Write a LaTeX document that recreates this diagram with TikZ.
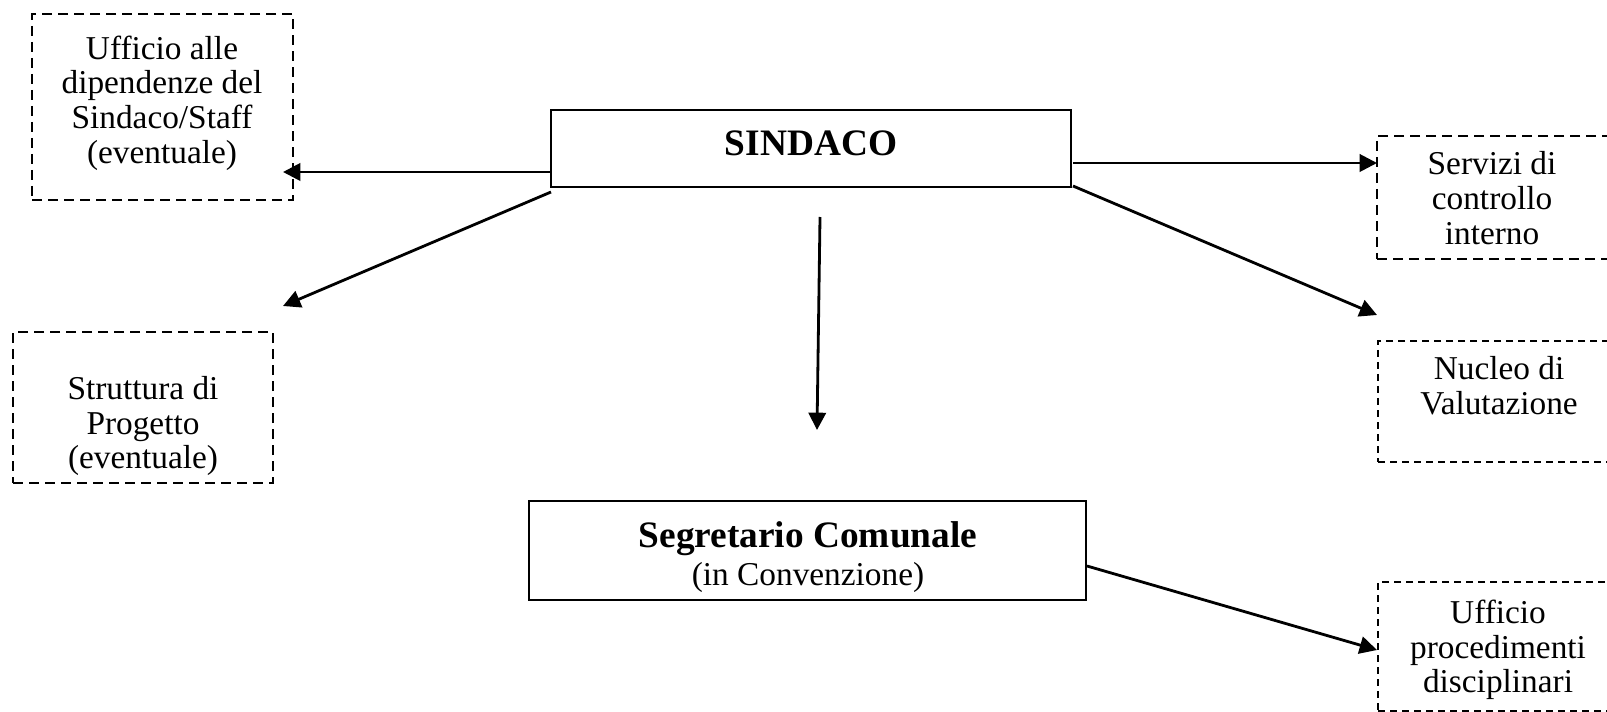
\documentclass[tikz,border=0pt]{standalone}
\usepackage{fontspec}
\setmainfont{Liberation Serif}
\usetikzlibrary{arrows.meta,fit}
\begin{document}
\begin{tikzpicture}[x=0.375pt,y=-0.375pt,
  solidbox/.style={draw, line width=0.75pt, inner sep=0pt},
  longdash/.style={draw, line width=0.75pt, inner sep=0pt, dash pattern=on 3.75pt off 2.25pt},
  shortdash/.style={draw, line width=0.6pt, inner sep=0pt, dash pattern=on 2.6pt off 1.9pt},
  txt/.style={align=center, inner sep=0pt, font=\fontsize{12.5}{13}\selectfont},
  arr/.style={line width=1.05pt, -{Triangle[length=6.5pt,width=6.5pt]}}]
\useasboundingbox (0,0) rectangle (1607,712);
\clip (0,0) rectangle (1607,712);
% boxes
\node[longdash, fit={(32,14) (293,200)}] (uff) {};
\node[txt] (ufft) at (162,103) {Ufficio alle\\dipendenze del\\Sindaco/Staff\\(eventuale)};
\node[solidbox, fit={(551,110) (1071,187)}] (sind) {};
\node[inner sep=0pt, font=\fontsize{14}{16}\selectfont\bfseries] (sindt) at (811,143.5) {SINDACO};
\node[longdash, fit={(1377,136) (1625,259)}] (serv) {};
\node[txt] (servt) at (1492,198) {Servizi di\\controllo\\interno};
\node[shortdash, fit={(1378,341) (1625,462)}] (nuc) {};
\node[txt] (nuct) at (1499,386) {Nucleo di\\Valutazione};
\node[longdash, fit={(13,332) (273,483)}] (strut) {};
\node[txt] (strutt) at (143,426) {Struttura di\\Progetto\\(eventuale)};
\node[solidbox, fit={(529,501) (1086,600)}] (seg) {};
\node[txt, font=\fontsize{12.5}{14.25}\selectfont] (segt) at (808,557) {{\fontsize{14}{16}\selectfont\bfseries Segretario Comunale}\\(in Convenzione)};
\node[shortdash, fit={(1378,582) (1625,711)}] (proc) {};
\node[txt] (proct) at (1498,650) {Ufficio\\procedimenti\\disciplinari};
% connector ends
\coordinate (a1s) at (551,172);
\coordinate (a1e) at (283,172);
\coordinate (a2s) at (1073,163);
\coordinate (a2e) at (1377,163);
\coordinate (a3s) at (1073,186);
\coordinate (a3e) at (1377,315);
\coordinate (a4s) at (551,192);
\coordinate (a4e) at (283,306);
\coordinate (a5s) at (820,217);
\coordinate (a5e) at (817,430);
\coordinate (a6s) at (1087,566);
\coordinate (a6e) at (1377,650);
\draw[arr] (a1s) -- (a1e);
\draw[arr] (a2s) -- (a2e);
\draw[arr] (a3s) -- (a3e);
\draw[arr] (a4s) -- (a4e);
\draw[arr] (a5s) -- (a5e);
\draw[arr] (a6s) -- (a6e);
\end{tikzpicture}
\end{document}
